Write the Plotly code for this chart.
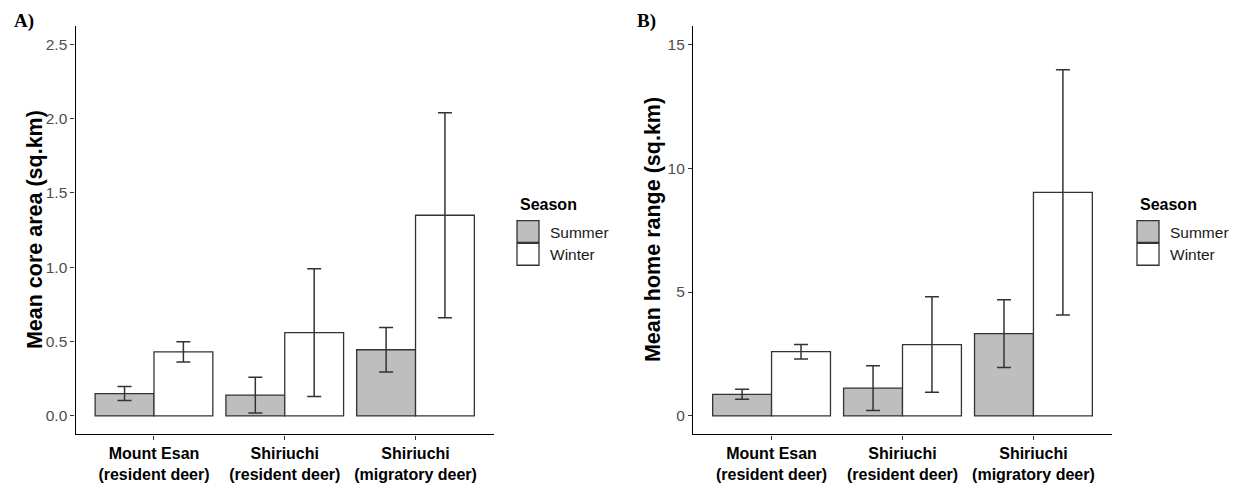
import plotly.graph_objects as go
from plotly.subplots import make_subplots

# Study groups and seasons
groups = ["Mount Esan<br>(resident deer)",
          "Shiriuchi<br>(resident deer)",
          "Shiriuchi<br>(migratory deer)"]
seasons = ["Summer", "Winter"]

# A) mean core area (sq.km) and error half-widths
core_summer = [0.15, 0.14, 0.445]
core_winter = [0.43, 0.56, 1.35]
core_summer_err = [0.047, 0.12, 0.15]
core_winter_err = [0.068, 0.43, 0.69]

# B) mean home range (sq.km) and error half-widths
home_summer = [0.87, 1.12, 3.32]
home_winter = [2.59, 2.88, 9.02]
home_summer_err = [0.2, 0.9, 1.37]
home_winter_err = [0.29, 1.93, 4.95]

core_ticks = [0.0, 0.5, 1.0, 1.5, 2.0, 2.5]
home_ticks = [0, 5, 10, 15]

W, H = 1245, 483
FILL = {"Summer": "#bebebe", "Winter": "#ffffff"}
EDGE = "#333333"
SANS = "Liberation Sans, Arial, sans-serif"
SERIF = "Liberation Serif, Times New Roman, serif"

fig = make_subplots(rows=1, cols=2)

panels = [
    (1, core_summer, core_winter, core_summer_err, core_winter_err),
    (2, home_summer, home_winter, home_summer_err, home_winter_err),
]
for col, s_vals, w_vals, s_err, w_err in panels:
    for season, vals, err in (("Summer", s_vals, s_err), ("Winter", w_vals, w_err)):
        fig.add_trace(
            go.Bar(
                x=groups, y=vals, name=season, showlegend=False,
                marker=dict(color=FILL[season], line=dict(color=EDGE, width=1.3)),
                error_y=dict(type="data", array=err, visible=True,
                             color=EDGE, thickness=1.5, width=7),
            ),
            row=1, col=col,
        )

# Panel geometry (pixels)
y_top, y_bot = 26, 439
ydom = [(H - y_bot) / H, (H - y_top) / H]
xdomA = [75.5 / W, 494 / W]
xdomB = [693 / W, 1112 / W]

axis_common = dict(showline=True, linecolor="#000000", linewidth=1.2,
                   ticks="outside", ticklen=4, tickcolor=EDGE, tickwidth=1.1,
                   showgrid=False, zeroline=False)

bold_ticks = [f"<b>{g.split('<br>')[0]}</b><br><b>{g.split('<br>')[1]}</b>" for g in groups]

fig.update_xaxes(**axis_common, range=[-0.6, 2.6],
                 tickfont=dict(family=SANS, size=16, color="#000000"))
fig.update_yaxes(**axis_common, tickfont=dict(family=SANS, size=15.5, color="#4d4d4d"))

fig.update_layout(
    xaxis=dict(domain=xdomA, tickvals=groups, ticktext=bold_ticks),
    xaxis2=dict(domain=xdomB, tickvals=groups, ticktext=bold_ticks),
    yaxis=dict(domain=ydom, range=[-0.125, 2.625], tickvals=core_ticks,
               ticktext=[f"{t:.1f}" for t in core_ticks]),
    yaxis2=dict(domain=ydom, range=[-0.75, 15.75], tickvals=home_ticks,
                ticktext=[str(t) for t in home_ticks]),
    barmode="group", bargap=0.1, bargroupgap=0,
    width=W, height=H, margin=dict(l=0, r=0, t=0, b=0),
    paper_bgcolor="white", plot_bgcolor="white",
)

# Axis titles and panel tags
ymid = 1 - (y_top + y_bot) / 2 / H
for xpx, title in ((35, "Mean core area (sq.km)"), (653, "Mean home range (sq.km)")):
    fig.add_annotation(xref="paper", yref="paper", x=xpx / W, y=ymid,
                       text=f"<b>{title}</b>", textangle=-90, showarrow=False,
                       font=dict(family=SANS, size=21.5, color="#000000"),
                       xanchor="center", yanchor="middle")
for xpx, tag in ((12, "A)"), (635, "B)")):
    fig.add_annotation(xref="paper", yref="paper", x=xpx / W, y=1 - 21 / H,
                       text=f"<b>{tag}</b>", showarrow=False,
                       font=dict(family=SERIF, size=19, color="#000000"),
                       xanchor="left", yanchor="middle")

# Season legends
for x0 in (517, 1137):
    fig.add_annotation(xref="paper", yref="paper", x=(x0 + 1) / W, y=1 - 207 / H,
                       text="<b>Season</b>", showarrow=False,
                       font=dict(family=SANS, size=16, color="#000000"),
                       xanchor="left", yanchor="middle")
    for i, season in enumerate(seasons):
        top = 223 + i * 23
        fig.add_shape(type="rect", xref="paper", yref="paper",
                      x0=x0 / W, x1=(x0 + 22) / W,
                      y0=1 - (top + 22) / H, y1=1 - top / H,
                      fillcolor=FILL[season], line=dict(color=EDGE, width=1.3))
        fig.add_annotation(xref="paper", yref="paper", x=(x0 + 31) / W,
                           y=1 - (top + 11.5) / H, text=season, showarrow=False,
                           font=dict(family=SANS, size=15.5, color="#1a1a1a"),
                           xanchor="left", yanchor="middle")

fig.write_html("out.html")
